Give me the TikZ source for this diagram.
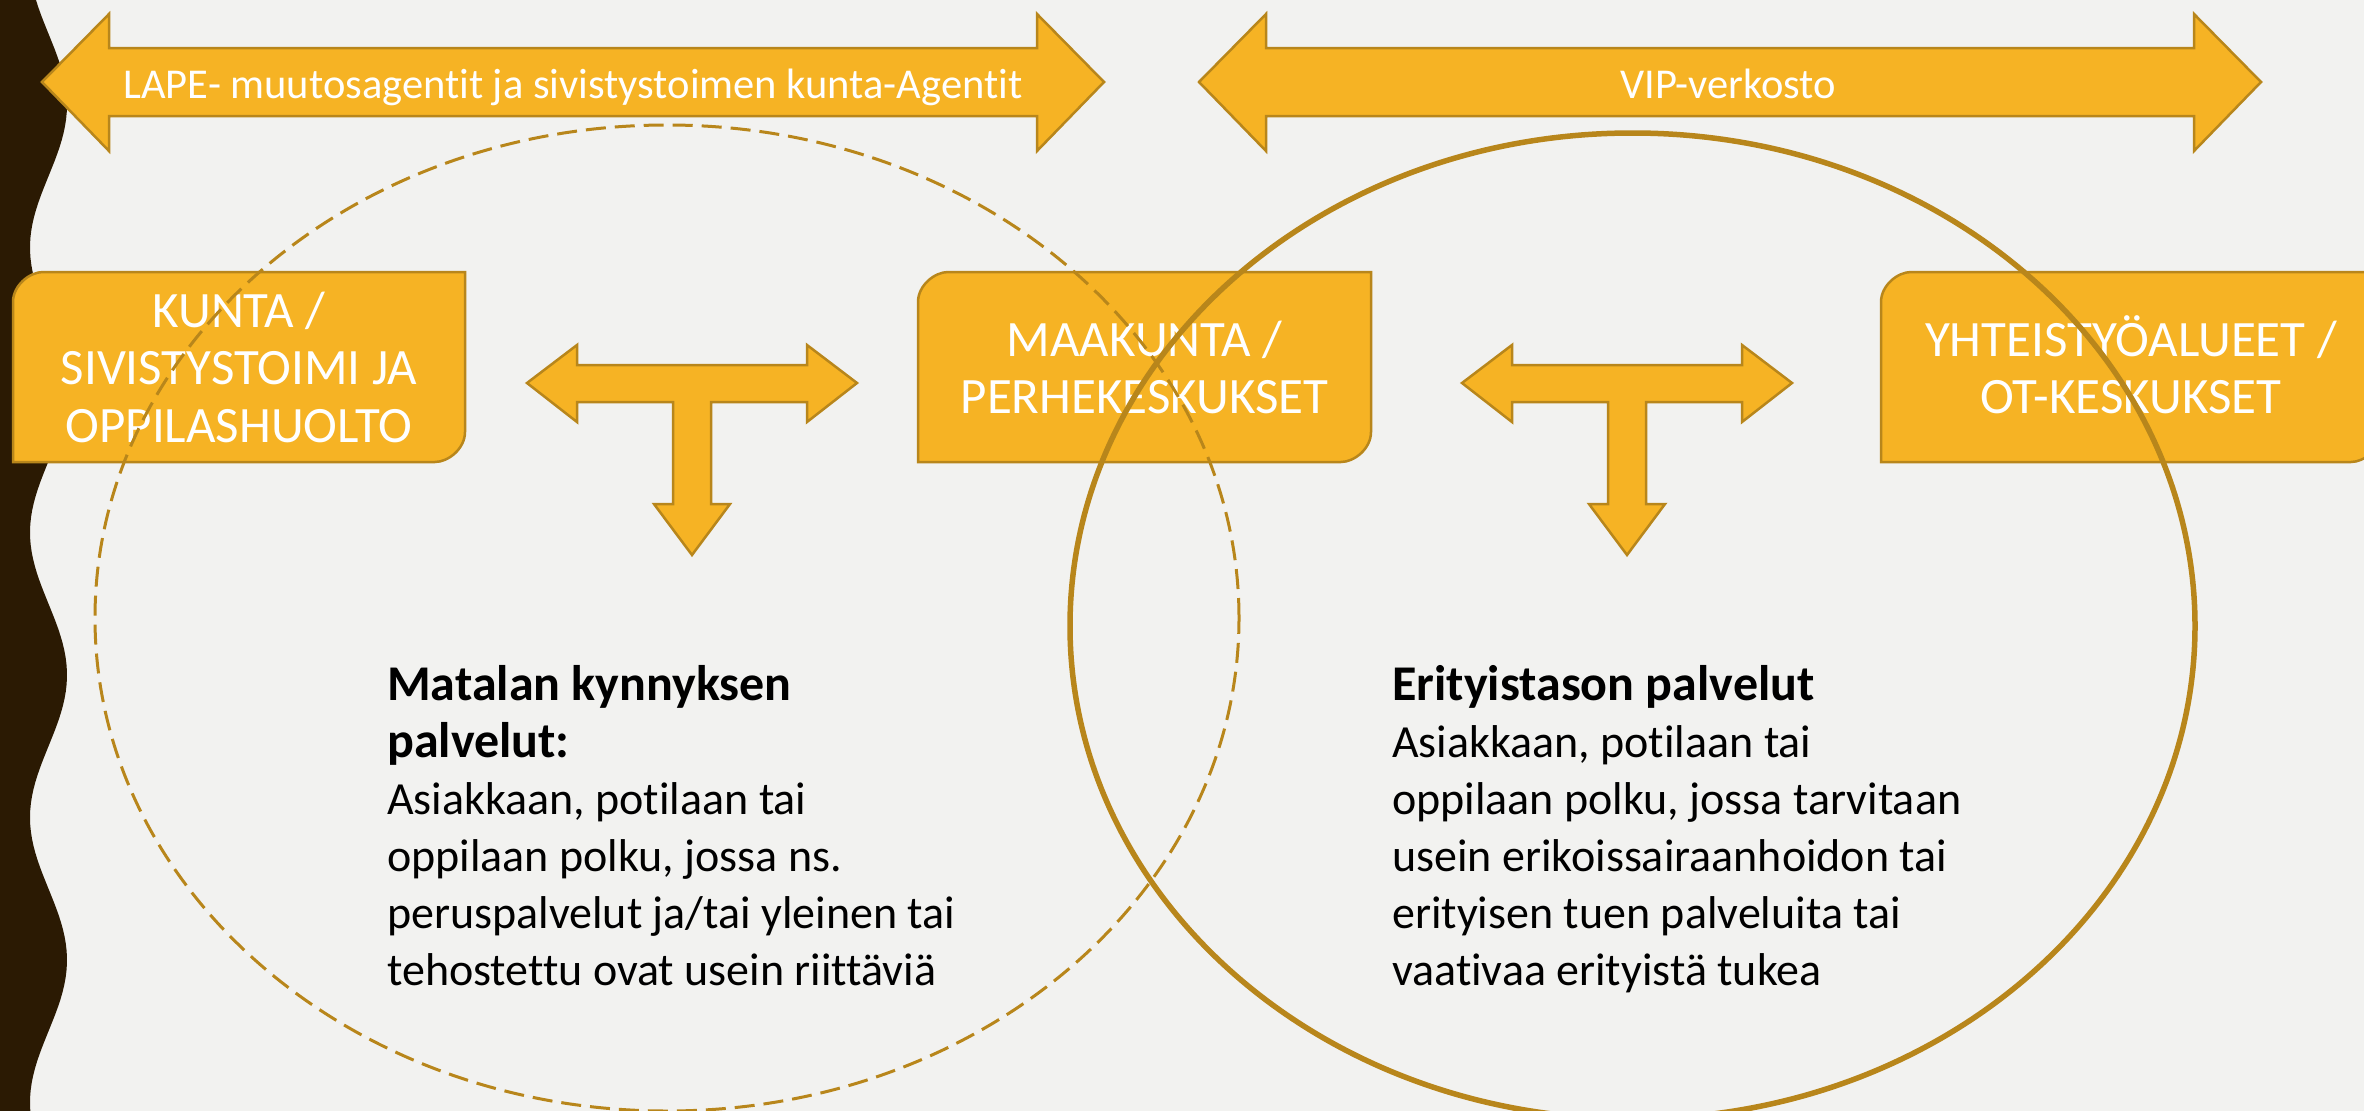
\documentclass[tikz,border=0pt]{standalone}
\usepackage{fontspec}
\setmainfont[Ligatures={NoCommon},RawFeature={-liga;-clig}]{Carlito}
\definecolor{bg}{HTML}{F2F2F0}
\definecolor{band}{HTML}{2B1A03}
\definecolor{gold}{HTML}{F6B324}
\definecolor{goldline}{HTML}{B8861B}
\newcommand{\headfont}{\fontsize{50}{57}\selectfont\bfseries}
\begin{document}
\begin{tikzpicture}[x=1pt,y=-1pt,
  shapefill/.style={fill=gold, draw=goldline, line width=2.5pt, line join=miter},
  arrowtext/.style={text=white, inner sep=0, font=\fontsize{42.5}{50}\selectfont},
  boxtext/.style={text=white, inner sep=0, font=\fontsize{51}{57.5}\selectfont},
  bodytext/.style={text=black, inner sep=0, font=\fontsize{46}{57}\selectfont},
  ringdash/.style={draw=goldline, line width=3pt, dash pattern=on 20pt off 9pt},
  ringsolid/.style={draw=goldline, line width=5.5pt}]
\useasboundingbox (0,0) rectangle (2364,1111);
\clip (0,0) rectangle (2364,1111);
\fill[bg] (0,0) rectangle (2364,1111);
% wavy dark band
\fill[band] (0,0) -- (36,0) -- plot[domain=0:1111, samples=160, variable=\yy] ({48.5+18.5*cos(1.263158*(\yy-105))}, {\yy}) -- (0,1111) -- cycle;
% top double arrows
\draw[shapefill] (42,82) -- (109,14) -- (109,48) -- (1037,48) -- (1037,14) -- (1104,82) -- (1037,151) -- (1037,116) -- (109,116) -- (109,151) -- cycle;
\node[arrowtext, anchor=base] (lape) at (573,98) {LAPE- muutosagentit ja sivistystoimen kunta-Agentit};
\draw[shapefill] (1199,82) -- (1266,14) -- (1266,48) -- (2194,48) -- (2194,14) -- (2261,82) -- (2194,151) -- (2194,116) -- (1266,116) -- (1266,151) -- cycle;
\node[arrowtext, anchor=base] (vip) at (1728,98) {VIP-verkosto};
% boxes with rounded top-left and bottom-right corners
\draw[shapefill] (13,462) -- (13,302) .. controls (13,285.4) and (29.6,272) .. (43,272) -- (465,272) -- (465,432) .. controls (465,448.6) and (448.4,462) .. (435,462) -- cycle;
\node[boxtext, anchor=base] (kunta) at (239,327) {\parbox[t]{440pt}{\centering KUNTA /\\SIVISTYSTOIMI JA\\OPPILASHUOLTO}};
\draw[shapefill] (918,462) -- (918,302) .. controls (918,285.4) and (934.6,272) .. (948,272) -- (1371,272) -- (1371,432) .. controls (1371,448.6) and (1354.4,462) .. (1341,462) -- cycle;
\node[boxtext, anchor=base] (maakunta) at (1144.5,356) {\parbox[t]{440pt}{\centering MAAKUNTA /\\PERHEKESKUKSET}};
\draw[shapefill] (1881,462) -- (1881,302) .. controls (1881,285.4) and (1897.6,272) .. (1911,272) -- (2381,272) -- (2381,432) .. controls (2381,448.6) and (2364.4,462) .. (2351,462) -- cycle;
\node[boxtext, anchor=base] (yhteis) at (2131,356) {\parbox[t]{490pt}{\centering YHTEISTYÖALUEET /\\OT-KESKUKSET}};
% T arrows
\foreach \dx in {0, 935}{
  \begin{scope}[shift={(\dx,0)}]
  \draw[shapefill] (527,383) -- (577,345) -- (577,365) -- (807,365) -- (807,345) -- (857,383) -- (807,422) -- (807,402) -- (711,402) -- (711,504) -- (730,504) -- (692,555) -- (654,504) -- (673,504) -- (673,402) -- (577,402) -- (577,422) -- cycle;
  \end{scope}
}
% body texts
\node[bodytext, anchor=base west] (matala) at (387,700) {\parbox[t]{700pt}{\raggedright{\headfont Matalan kynnyksen}\\{\headfont palvelut:}\\Asiakkaan, potilaan tai\\oppilaan polku, jossa ns.\\peruspalvelut ja/tai yleinen tai\\tehostettu ovat usein riittäviä}};
\node[bodytext, anchor=base west] (erityis) at (1392,700) {\parbox[t]{700pt}{\raggedright{\headfont Erityistason palvelut}\\Asiakkaan, potilaan tai\\oppilaan polku, jossa tarvitaan\\usein erikoissairaanhoidon tai\\erityisen tuen palveluita tai\\vaativaa erityistä tukea}};
% ellipses
\draw[ringdash] (667,618) ellipse [x radius=572pt, y radius=493pt];
\draw[ringsolid] (1632.5,626) ellipse [x radius=562.5pt, y radius=493pt];
\end{tikzpicture}
\end{document}
